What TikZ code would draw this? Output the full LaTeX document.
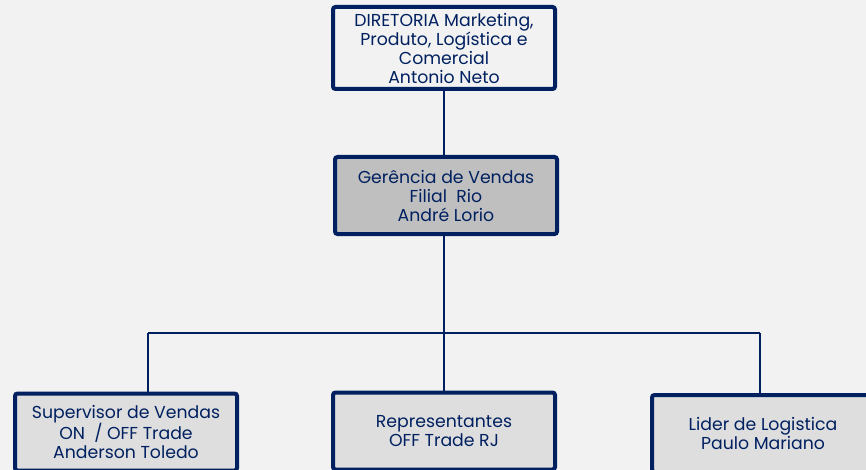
\documentclass[tikz,border=0pt]{standalone}
\usepackage{fontspec}
\setmainfont{Poppins}
\definecolor{navy}{HTML}{002060}
\definecolor{bg}{HTML}{F2F2F2}
\definecolor{midfill}{HTML}{BFBFBF}
\definecolor{lowfill}{HTML}{DEDEDE}
\tikzset{
  orgbox/.style={draw=navy, line width=4pt, rounded corners=2.5pt, minimum width=222pt,
    align=center, text=navy, font=\fontsize{17.3}{19}\selectfont, inner sep=0pt},
  conn/.style={draw=navy, line width=1.5pt}
}
\begin{document}
\begin{tikzpicture}[x=1pt,y=-1pt]
\fill[bg] (0,0) rectangle (866,470);
\useasboundingbox (0,0) rectangle (866,470);
\clip (0,0) rectangle (866,470);
\node[orgbox, fill=bg, minimum height=82pt] (dir) at (444,48)
  {DIRETORIA Marketing,\\Produto, Logística e\\Comercial\\Antonio Neto};
\node[orgbox, fill=midfill, minimum height=77pt] (ger) at (446,195.5)
  {Gerência de Vendas\\Filial~ Rio\\André Lorio};
\node[orgbox, fill=lowfill, minimum height=77pt] (sup) at (126,432)
  {Supervisor de Vendas\\ON~ / OFF Trade\\Anderson Toledo};
\node[orgbox, fill=lowfill, minimum height=77pt] (rep) at (444,431)
  {Representantes\\OFF Trade RJ};
\node[orgbox, fill=lowfill, minimum height=77pt] (lid) at (763,433.5)
  {Lider de Logistica\\Paulo Mariano};
\coordinate (bus) at (444,333);
\coordinate (busL) at (148,333);
\coordinate (busR) at (760,333);
\draw[conn] (dir.south) -- (dir.south |- ger.north);
\draw[conn] (dir.south |- ger.south) -- (bus);
\draw[conn] (busL) -- (busR);
\draw[conn] (busL) -- (busL |- sup.north);
\draw[conn] (bus) -- (rep.north);
\draw[conn] (busR) -- (busR |- lid.north);
\end{tikzpicture}
\end{document}
